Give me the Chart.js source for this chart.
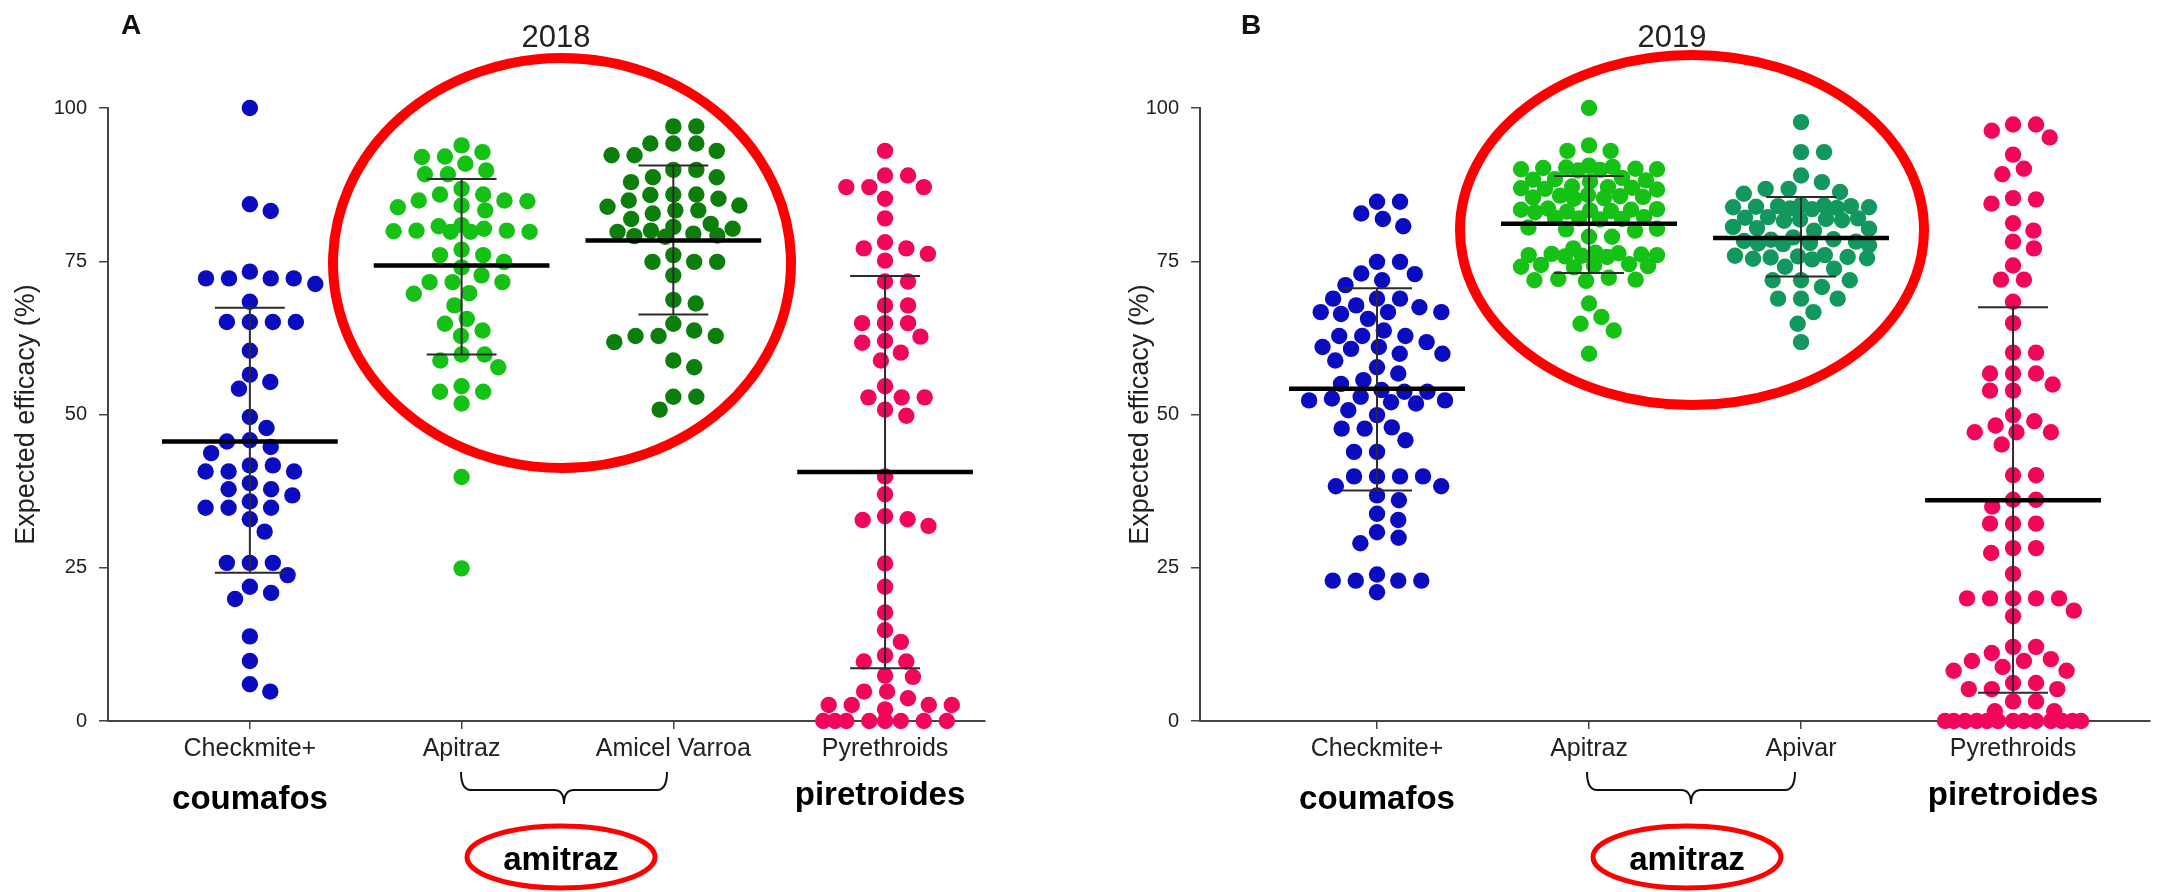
<!DOCTYPE html>
<html>
<head>
<meta charset="utf-8">
<script src="https://cdn.jsdelivr.net/npm/chart.js@4.4.1/dist/chart.umd.min.js"></script>
<style>
html,body{margin:0;padding:0;background:#fff;}
#wrap{position:relative;width:2162px;height:892px;overflow:hidden;background:#fff;}
canvas{position:absolute;top:0;}
.t{position:absolute;white-space:nowrap;transform:translate(-50%,-50%);color:#111;font-family:'Liberation Sans',Arial,sans-serif;line-height:1;}
.panel{font-weight:bold;font-size:28px;}
.year{font-size:31px;color:#222;}
.bold{font-weight:bold;font-size:33px;color:#000;}
svg{position:absolute;left:0;top:0;pointer-events:none;}
</style>
</head>
<body>
<div id="wrap">
<canvas id="cA" width="1100" height="892" style="left:0px"></canvas>
<canvas id="cB" width="1062" height="892" style="left:1100px"></canvas>
<svg width="2162" height="892" viewBox="0 0 2162 892">
  <ellipse cx="562" cy="263" rx="229" ry="205" fill="none" stroke="#ff0000" stroke-width="10"/>
  <ellipse cx="1692" cy="230" rx="232" ry="175" fill="none" stroke="#ff0000" stroke-width="10"/>
  <ellipse cx="561" cy="857" rx="94" ry="31" fill="none" stroke="#ff0000" stroke-width="5"/>
  <ellipse cx="1687" cy="857" rx="94" ry="31" fill="none" stroke="#ff0000" stroke-width="5"/>
  <path d="M461 772 Q461 790 471 790 L554 790 Q564 790 564 804 Q564 790 574 790 L657 790 Q667 790 667 772" fill="none" stroke="#111" stroke-width="2"/>
  <path d="M1587 772 Q1587 790 1597 790 L1681 790 Q1691 790 1691 804 Q1691 790 1701 790 L1785 790 Q1795 790 1795 772" fill="none" stroke="#111" stroke-width="2"/>
</svg>
<div class="t panel" style="left:131px;top:25px">A</div>
<div class="t year" style="left:556px;top:36px">2018</div>
<div class="t panel" style="left:1251px;top:25px">B</div>
<div class="t year" style="left:1672px;top:36px">2019</div>
<div class="t bold" style="left:250px;top:797px">coumafos</div>
<div class="t bold" style="left:880px;top:793px">piretroides</div>
<div class="t bold" style="left:1377px;top:797px">coumafos</div>
<div class="t bold" style="left:2013px;top:793px">piretroides</div>
<div class="t bold" style="left:561px;top:858px">amitraz</div>
<div class="t bold" style="left:1687px;top:858px">amitraz</div>
</div>
<script>
// ---------- data ----------
const categoriesA = ['Checkmite+', 'Apitraz', 'Amicel Varroa', 'Pyrethroids'];
const categoriesB = ['Checkmite+', 'Apitraz', 'Apivar', 'Pyrethroids'];
const yTickValues = [0, 25, 50, 75, 100];
const yTitle = 'Expected efficacy (%)';

const checkmiteA = [100, 84.3, 83.2, 73.3, 72.2, 72.2, 71.3, 72.2, 72.2, 68.4, 65.1, 65.1, 65.1, 65.1, 60.4, 56.5, 55.3, 54.2, 49.6, 47.8, 45.8, 45.6, 44.7, 43.7, 41.7, 40.7, 40.7, 40.7, 41.7, 38.8, 37.8, 36.8, 37.8, 35.8, 34.8, 34.8, 34.8, 32.9, 30.9, 25.8, 25.8, 25.8, 23.8, 21.9, 20.9, 19.9, 13.8, 9.8, 6.0, 4.8];
const apitrazA = [93.9, 92.8, 92.1, 92.0, 90.9, 89.8, 89.2, 89.2, 86.8, 85.9, 85.9, 84.9, 84.9, 84.8, 84.1, 83.8, 83.3, 80.9, 80.3, 79.8, 79.8, 80.0, 79.8, 79.9, 80.0, 80.7, 76.9, 76.0, 76.0, 74.9, 74.0, 72.7, 71.6, 71.6, 71.6, 69.7, 69.8, 67.8, 65.6, 64.8, 63.7, 62.8, 59.8, 59.8, 58.8, 57.7, 54.6, 53.7, 53.7, 51.8, 39.8, 24.9];
const amicelA = [97.0, 97.0, 94.2, 94.2, 94.2, 93.0, 92.3, 92.3, 89.9, 89.9, 88.7, 88.7, 87.9, 85.9, 85.8, 85.2, 85.9, 84.9, 84.1, 83.9, 83.3, 82.8, 83.3, 81.9, 81.1, 80.6, 80.3, 80.0, 79.8, 79.5, 79.2, 79.1, 79.0, 76.0, 74.9, 74.9, 74.9, 72.7, 68.7, 68.1, 64.8, 63.7, 62.8, 61.8, 62.8, 62.8, 58.8, 57.7, 52.9, 52.9, 50.8];
const pyrethroidsA = [93.0, 89.0, 89.0, 87.1, 87.1, 87.1, 85.2, 82.0, 78.1, 77.1, 77.1, 76.2, 75.1, 71.7, 71.7, 67.8, 67.8, 64.9, 64.9, 64.9, 62.7, 62.0, 61.7, 60.1, 58.8, 54.6, 52.8, 52.8, 52.8, 50.8, 49.8, 39.9, 37.0, 33.4, 32.8, 31.8, 32.9, 25.7, 21.9, 17.7, 14.8, 12.9, 10.7, 9.7, 9.7, 7.2, 7.4, 4.8, 3.7, 4.8, 2.6, 2.6, 1.9, 2.6, 2.6, 0, 0, 0, 0, 0, 0, 0, 0];

const checkmiteB = [84.7, 84.7, 82.8, 81.9, 80.7, 74.9, 74.9, 73.0, 72.9, 71.9, 71.1, 68.9, 68.9, 68.9, 67.8, 67.5, 66.7, 66.7, 66.4, 66.7, 65.6, 63.7, 62.8, 62.8, 62.8, 61.8, 61.0, 61.0, 60.7, 59.9, 59.9, 58.8, 57.7, 56.7, 55.6, 55.0, 54.0, 53.7, 53.7, 52.9, 52.3, 51.8, 52.0, 52.3, 52.6, 50.7, 49.9, 47.9, 47.7, 47.7, 45.8, 43.9, 43.9, 39.9, 39.9, 39.9, 39.9, 38.3, 38.3, 36.8, 36.0, 33.8, 32.8, 30.8, 29.9, 29.0, 22.9, 22.9, 21.0, 22.9, 22.9, 23.9];
const apitrazB = [100, 93.9, 93.0, 93.0, 90.6, 90.3, 90.1, 90.0, 89.9, 90.2, 90.4, 89.8, 90.0, 88.6, 88.2, 88.4, 88.0, 88.3, 87.2, 87.0, 86.8, 86.9, 87.1, 86.7, 85.8, 85.5, 85.3, 85.6, 85.4, 85.2, 85.7, 83.6, 83.4, 83.2, 83.0, 83.5, 83.3, 83.1, 83.4, 82.2, 82.0, 81.8, 81.9, 82.1, 80.5, 80.2, 80.0, 80.3, 79.0, 79.0, 77.1, 76.3, 76.0, 75.8, 76.1, 75.9, 76.2, 75.7, 76.0, 76.4, 74.4, 74.2, 74.0, 74.3, 74.1, 74.5, 72.3, 72.0, 71.8, 72.1, 71.9, 68.1, 65.9, 64.8, 63.7, 59.9];
const apivarB = [97.7, 92.8, 92.8, 89.0, 87.9, 86.8, 86.8, 86.3, 86.0, 84.2, 84.0, 83.8, 83.6, 83.9, 83.7, 84.1, 83.5, 83.8, 84.0, 82.1, 81.9, 81.7, 82.0, 81.8, 82.2, 81.6, 80.6, 80.3, 80.0, 80.4, 78.9, 78.5, 78.2, 77.9, 78.6, 78.0, 77.6, 78.3, 77.8, 75.8, 75.5, 75.9, 75.6, 75.3, 75.7, 75.4, 76.0, 74.1, 73.8, 71.9, 71.9, 71.9, 70.8, 68.9, 68.9, 68.9, 66.7, 64.8, 61.8];
const pyrethroidsB = [97.3, 96.3, 95.2, 97.3, 92.4, 90.1, 89.2, 85.1, 84.4, 85.3, 81.2, 80.0, 78.2, 77.1, 74.3, 72.0, 72.0, 68.4, 64.9, 60.1, 60.1, 56.7, 56.7, 56.7, 54.9, 53.9, 53.9, 49.9, 48.9, 47.1, 47.1, 47.1, 48.2, 45.1, 40.1, 40.1, 36.1, 36.1, 35.0, 32.2, 32.2, 32.2, 28.2, 27.4, 28.2, 24.0, 20.0, 20.0, 18.0, 17.1, 20.0, 20.0, 20.0, 12.1, 11.1, 10.1, 8.8, 9.8, 9.8, 12.1, 8.2, 6.2, 5.2, 5.2, 5.2, 6.2, 8.2, 3.2, 3.2, 1.6, 1.6, 0, 0, 0, 0, 0, 0, 0, 0, 0, 0, 0, 0, 0];

// mean and mean ± SD as drawn in the reference
const meanA = [45.6, 74.3, 78.4, 40.6];
const sdUpperA = [67.4, 88.4, 90.6, 72.6];
const sdLowerA = [24.2, 59.8, 66.3, 8.6];
const meanB = [54.2, 81.1, 78.8, 36.0];
const sdUpperB = [70.6, 88.9, 85.5, 67.5];
const sdLowerB = [37.6, 73.1, 72.5, 4.6];

const colorsA = ['#0b0bbf', '#14c114', '#0c7e0c', '#f2065c'];
const colorsB = ['#0b0bbf', '#14c114', '#12985f', '#f2065c'];

// ---------- layout helpers ----------
Chart.defaults.font.family = "'Liberation Sans', Arial, sans-serif";

function swarm(py, sx, sy, maxHW) {
  const order = py.map((y, i) => i).sort((a, b) => py[a] - py[b]);
  const placed = [];
  const out = new Array(py.length);
  for (const i of order) {
    const y = py[i];
    const nb = placed.filter(p => Math.abs(p.y - y) < sy);
    const cands = [0];
    nb.forEach(p => {
      const d = sx * Math.sqrt(Math.max(0, 1 - ((p.y - y) / sy) ** 2));
      cands.push(p.x + d, p.x - d);
    });
    const ok = c => nb.every(p => ((c - p.x) / sx) ** 2 + ((y - p.y) / sy) ** 2 >= 0.999);
    let best = null;
    cands.forEach(c => {
      if (Math.abs(c) <= maxHW + 1e-6 && ok(c)) {
        if (best === null || Math.abs(c) < Math.abs(best) - 1e-9) best = c;
      }
    });
    if (best === null) {
      let bestScore = -1;
      for (let c = -maxHW; c <= maxHW + 1e-6; c += 1) {
        let m = Infinity;
        nb.forEach(p => { m = Math.min(m, ((c - p.x) / sx) ** 2 + ((y - p.y) / sy) ** 2); });
        if (m > bestScore + 1e-9) { bestScore = m; best = c; }
      }
    }
    out[i] = best;
    placed.push({ x: best, y });
  }
  return out;
}

const MEAN_HW = 0.415, CAP_HW = 0.165;

function makeChart(id, cats, series, colors, means, ups, lows, xmin, xmax, padRight, yWidth, titlePad) {
  const datasets = series.map((vals, i) => ({
    type: 'scatter',
    data: vals.map(v => ({ x: i, y: v })),
    backgroundColor: colors[i],
    borderWidth: 0,
    pointRadius: 8.2,
    pointHoverRadius: 8.2,
    order: 3,
    clip: false
  }));
  const sdData = [], meanData = [];
  means.forEach((m, i) => {
    meanData.push({ x: i - MEAN_HW, y: m }, { x: i + MEAN_HW, y: m }, { x: i, y: null });
    sdData.push({ x: i, y: lows[i] }, { x: i, y: ups[i] }, { x: i, y: null },
      { x: i - CAP_HW, y: ups[i] }, { x: i + CAP_HW, y: ups[i] }, { x: i, y: null },
      { x: i - CAP_HW, y: lows[i] }, { x: i + CAP_HW, y: lows[i] }, { x: i, y: null });
  });
  datasets.push({ type: 'line', data: sdData, borderColor: '#2b2b2b', borderWidth: 2, pointRadius: 0, spanGaps: false, order: 2, clip: false });
  datasets.push({ type: 'line', data: meanData, borderColor: '#000', borderWidth: 4.5, pointRadius: 0, spanGaps: false, order: 1, clip: false });

  const chart = new Chart(document.getElementById(id), {
    type: 'scatter',
    data: { datasets },
    options: {
      responsive: false,
      animation: false,
      events: [],
      layout: { padding: { left: 0, top: 108, right: padRight, bottom: 0 } },
      plugins: { legend: { display: false }, tooltip: { enabled: false } },
      scales: {
        x: {
          type: 'linear', min: xmin, max: xmax,
          afterFit: s => { s.height = 171; },
          afterBuildTicks: s => { s.ticks = cats.map((c, i) => ({ value: i })); },
          ticks: { callback: v => cats[v], color: '#222', font: { size: 25 }, padding: 5, maxRotation: 0, autoSkip: false },
          grid: { display: true, drawOnChartArea: false, drawTicks: true, tickLength: 8, color: '#444', lineWidth: 1.5 },
          border: { display: true, color: '#444', width: 2 }
        },
        y: {
          min: 0, max: 100,
          afterFit: s => { s.width = yWidth; },
          afterBuildTicks: s => { s.ticks = yTickValues.map(v => ({ value: v })); },
          ticks: { color: '#222', font: { size: 20 }, padding: 12 },
          grid: { display: true, drawOnChartArea: false, drawTicks: true, tickLength: 9, color: '#444', lineWidth: 1.5 },
          border: { display: true, color: '#444', width: 2 },
          title: { display: true, text: yTitle, color: '#222', font: { size: 27 }, padding: { top: titlePad, bottom: 0 } }
        }
      }
    }
  });

  // beeswarm layout of the dots, computed in pixel space through the scales
  const xs = chart.scales.x, ys = chart.scales.y;
  const unit = xs.getPixelForValue(1) - xs.getPixelForValue(0);
  series.forEach((vals, ci) => {
    const py = vals.map(v => ys.getPixelForValue(v));
    const off = swarm(py, 23, 16, 68);
    chart.data.datasets[ci].data = vals.map((v, k) => ({ x: ci + off[k] / unit, y: v }));
  });
  chart.update('none');
  return chart;
}

makeChart('cA', categoriesA, [checkmiteA, apitrazA, amicelA, pyrethroidsA], colorsA, meanA, sdUpperA, sdLowerA, -0.67, 3.472, 115, 108, 10);
makeChart('cB', categoriesB, [checkmiteB, apitrazB, apivarB, pyrethroidsB], colorsB, meanB, sdUpperB, sdLowerB, -0.835, 3.646, 12, 100, 24);
</script>
</body>
</html>
